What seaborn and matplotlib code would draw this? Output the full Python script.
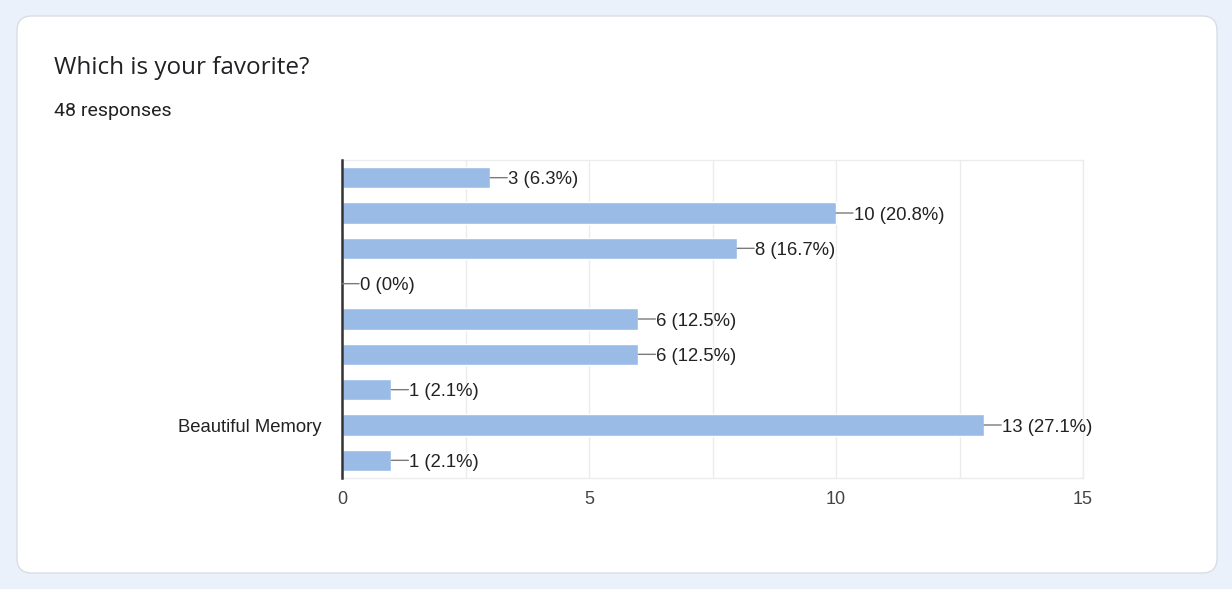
import matplotlib
matplotlib.use("Agg")
import matplotlib.pyplot as plt
from matplotlib.patches import FancyBboxPatch
from matplotlib.ticker import MultipleLocator
import seaborn as sns
import pandas as pd

# ---- data ----
title = "Which is your favorite?"
subtitle = "48 responses"
category_keys = ["o1", "o2", "o3", "o4", "o5", "o6", "o7", "o8", "o9"]
tick_labels = ["", "", "", "", "", "", "", "Beautiful Memory", ""]
counts = [3, 10, 8, 0, 6, 6, 1, 13, 1]
percent_labels = ["6.3%", "20.8%", "16.7%", "0%", "12.5%", "12.5%", "2.1%", "27.1%", "2.1%"]
x_ticks = [0, 5, 10, 15]

df = pd.DataFrame({"option": category_keys, "count": counts})

sns.set_theme(style="white")
plt.rcParams["font.family"] = ["Liberation Sans", "DejaVu Sans"]

fig = plt.figure(figsize=(12.32, 5.89), dpi=100)
fig.patch.set_facecolor("#ebf1fa")

# card
card = FancyBboxPatch((17 / 1232, 1 - 573 / 589), (1217 - 17) / 1232, (573 - 16) / 589,
                      boxstyle="round,pad=0,rounding_size=0.012",
                      transform=fig.transFigure, facecolor="white",
                      edgecolor="#d9dde3", linewidth=1.0, zorder=-10,
                      mutation_aspect=1232 / 589)
fig.patches.append(card)

fig.text(54 / 1232, 1 - 68 / 589, title, fontsize=17.5, color="#202124",
         va="center", ha="left", family=["Open Sans", "DejaVu Sans"])
fig.text(54 / 1232, 1 - 111 / 589, subtitle, fontsize=14, color="#202124",
         va="center", ha="left", family=["Roboto", "DejaVu Sans"])

ax = fig.add_axes([342 / 1232, 1 - 478 / 589, (1083 - 342) / 1232, (478 - 160) / 589])
ax.set_facecolor("white")
sns.barplot(data=df, x="count", y="option", orient="h", color="#9abbe6",
            saturation=1, width=0.6, ax=ax, zorder=3)

ax.set_xlim(0, 15)
ax.set_ylim(len(category_keys) - 0.5, -0.5)
ax.set_xticks(x_ticks)
ax.set_xticklabels([str(t) for t in x_ticks])
ax.xaxis.set_minor_locator(MultipleLocator(2.5))
ax.grid(True, axis="x", which="both", color="#ececec", linewidth=1, zorder=0)
ax.set_axisbelow(True)
ax.set_yticks(range(len(category_keys)))
ax.set_yticklabels(tick_labels)
ax.set_xlabel("")
ax.set_ylabel("")
ax.tick_params(axis="x", which="both", length=0, pad=9, labelsize=13, labelcolor="#444444")
ax.tick_params(axis="y", length=0, pad=15, labelsize=13.3, labelcolor="#222222")

for side in ["top", "right", "bottom"]:
    ax.spines[side].set_color("#ececec")
    ax.spines[side].set_linewidth(1)
ax.spines["left"].set_color("#333333")
ax.spines["left"].set_linewidth(1.8)
ax.spines["left"].set_zorder(5)

for i, (c, p) in enumerate(zip(counts, percent_labels)):
    # connector line
    ax.annotate("", xy=(c, i), xytext=(17, 0), textcoords="offset pixels",
                arrowprops=dict(arrowstyle="-", color="#7a7a7a", lw=1,
                                shrinkA=0, shrinkB=0), zorder=6)
    ax.annotate(f"{c} ({p})", xy=(c, i), xytext=(18, 0), textcoords="offset pixels",
                va="center_baseline", ha="left", fontsize=13.3, color="#222222",
                zorder=6)

fig.savefig("out.png", dpi=100, facecolor=fig.get_facecolor())
